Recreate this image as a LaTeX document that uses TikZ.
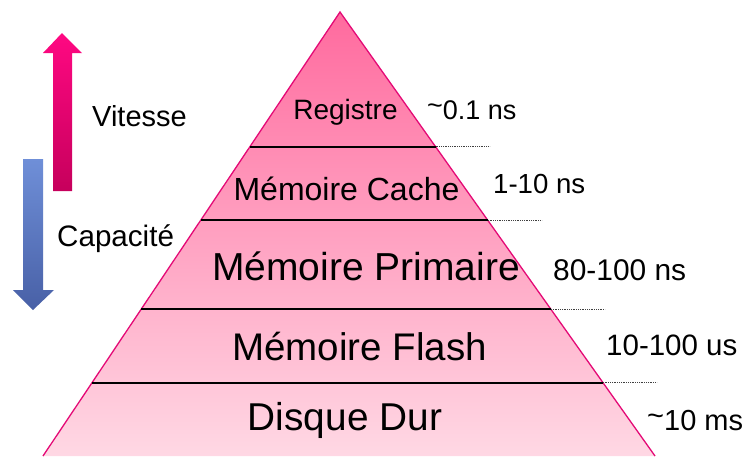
\documentclass[tikz,border=0pt]{standalone}
\usepackage{fontspec}
\setmainfont{Liberation Sans}
\setsansfont{Liberation Sans}
\usepackage{tikz}
\usetikzlibrary{calc,positioning}

\definecolor{pyrtop}{HTML}{FF6A9E}
\definecolor{pyrbot}{HTML}{FFD8E4}
\definecolor{pyredge}{HTML}{E40A76}
\definecolor{vittop}{HTML}{FF0882}
\definecolor{vitbot}{HTML}{C6005C}
\definecolor{captop}{HTML}{6F8FD8}
\definecolor{capbot}{HTML}{4860A6}

\newcommand{\pyrfont}[1]{\fontsize{#1}{#1}\selectfont}
\newcommand{\tildehaut}{\raisebox{0.15em}{\textasciitilde}}

\tikzset{
  niveau/.style={inner sep=0pt, anchor=base},
  temps/.style={inner sep=0pt, anchor=base west},
  sep/.style={line width=2pt, black},
  pointille/.style={line width=1pt, black!75, dash pattern=on 1pt off 0.8pt}
}

\begin{document}
\begin{tikzpicture}[x=1pt, y=-1pt, font=\sffamily]
		\useasboundingbox (0,0) rectangle (744,456);

		% Pyramide
		\coordinate (top) at (340,12);
		\coordinate (bl) at (43,456);
		\coordinate (br) at (655,456);
		\shade[top color=pyrtop, bottom color=pyrbot] (top) -- (br) -- (bl) -- cycle;
		\draw[pyredge, line width=1.3pt] (bl) -- (top) -- (br);

		% Lignes de separation et pointilles
		\foreach \t [count=\i] in {0.3034,0.4691,0.6700,0.8345} {
			\coordinate (l\i) at ($(top)!\t!(bl)$);
			\coordinate (r\i) at ($(top)!\t!(br)$);
			\draw[sep] (l\i) -- (r\i);
			\draw[pointille] (r\i) -- ++(54,0);
		}

		% Niveaux de memoire
		\node[niveau] (registre) at (345.5,119) {\pyrfont{28}Registre};
		\node[niveau] (cache) at (346.5,200.7) {\pyrfont{32}Mémoire Cache};
		\node[niveau] (primaire) at (366,280.7) {\pyrfont{39}Mémoire Primaire};
		\node[niveau] (flash) at (359.5,360) {\pyrfont{38.5}Mémoire Flash};
		\node[niveau] (disque) at (345,430.7) {\pyrfont{38.8}Disque Dur};

		% Temps d'acces
		\node[temps] (treg) at (427,119) {\pyrfont{27}\tildehaut0.1 ns};
		\node[temps] (tcache) at (493,193) {\pyrfont{27.6}1-10 ns};
		\node[temps] (tprim) at (553,280.7) {\pyrfont{29.9}80-100 ns};
		\node[temps] (tflash) at (606,355) {\pyrfont{29.5}10-100 us};
		\node[temps] (tdisque) at (647,430) {\pyrfont{29}\tildehaut10 ms};

		% Fleches vitesse / capacite
		\shade[top color=vittop, bottom color=vitbot]
			(62,33) -- (82,53) -- (72,53) -- (72,191) -- (53,191) -- (53,53) -- (43,53) -- cycle;
		\shade[top color=captop, bottom color=capbot]
			(23,159) -- (43,159) -- (43,290) -- (54,290) -- (33,310) -- (13,290) -- (23,290) -- cycle;
		\node[temps] (vitesse) at (92,126) {\pyrfont{29}Vitesse};
		\node[temps] (capacite) at (57,246) {\pyrfont{29.6}Capacité};
	\end{tikzpicture}
\end{document}
